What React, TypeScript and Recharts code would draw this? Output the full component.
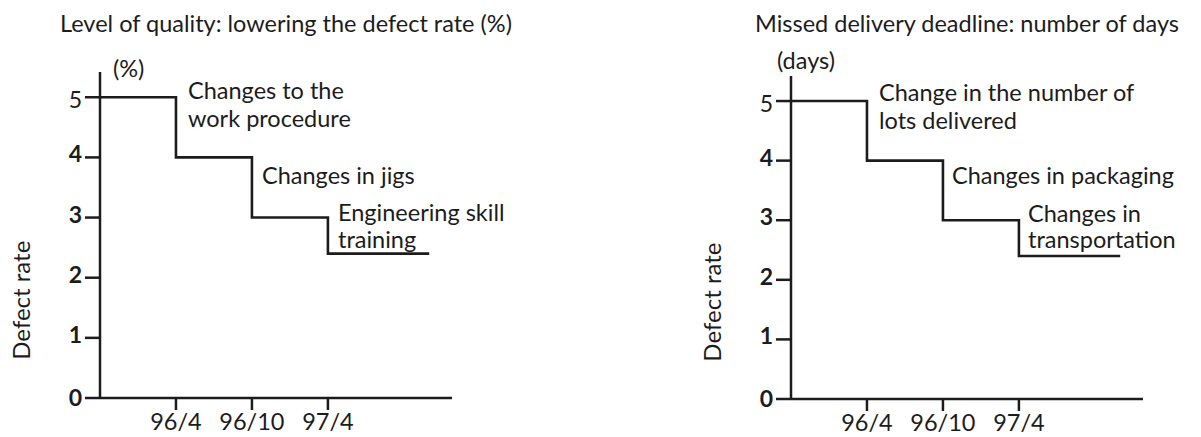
import { LineChart, Line, XAxis, YAxis } from 'recharts';

// months counted from 95/10
const months = [0, 6, 12, 18, 26];
const defectRate = [5, 4, 3, 2.4, 2.4];
const lateDays = [5, 4, 3, 2.4, 2.4];
const yTicks = [0, 1, 2, 3, 4, 5];
const xTicks = [6, 12, 18];
const xTickLabels = ['96/4', '96/10', '97/4'];

const qualityData = months.map((m, i) => ({ month: m, value: defectRate[i] }));
const deliveryData = months.map((m, i) => ({ month: m, value: lateDays[i] }));

const FONT = 'Lato, "Noto Sans", sans-serif';
const INK = '#1c1c1c';
const FS = 23.5;

const YTick = (props: any) => {
  const { x, y, payload } = props;
  const v = payload.value;
  const light = v === 5;
  return (
    <text
      x={x}
      y={y + (light ? 2 : v === 0 ? -1 : -4)}
      textAnchor="end"
      dominantBaseline="central"
      fontFamily={FONT}
      fontSize={23}
      fontWeight={light ? 400 : 700}
      fill={INK}
    >
      {v}
    </text>
  );
};

const YLabel = (props: any) => {
  const { viewBox } = props;
  const cx = viewBox.x + 21;
  const cy = viewBox.y + viewBox.height * 0.7;
  return (
    <text
      x={cx}
      y={cy}
      transform={`rotate(-90 ${cx} ${cy})`}
      textAnchor="middle"
      dominantBaseline="central"
      fontFamily={FONT}
      fontSize={24}
      fill={INK}
    >
      Defect rate
    </text>
  );
};

interface StepProps {
  data: Array<{ month: number; value: number }>;
  top: number;
  xAxisHeight: number;
}

const StepChart = (props: StepProps) => {
  return (
    <LineChart
      width={510}
      height={437}
      data={props.data}
      margin={{ top: props.top, right: 58, left: 0, bottom: 0 }}
    >
      <XAxis
        dataKey="month"
        type="number"
        domain={[0, 27.8]}
        ticks={xTicks}
        tickFormatter={(v: number) => xTickLabels[xTicks.indexOf(v)]}
        height={props.xAxisHeight}
        axisLine={{ stroke: INK, strokeWidth: 2.5 }}
        tickLine={{ stroke: INK, strokeWidth: 2.5 }}
        tickSize={12}
        tickMargin={3}
        tick={{ fill: INK, fontSize: FS, fontFamily: FONT }}
        interval={0}
      />
      <YAxis
        type="number"
        domain={[0, 5.42]}
        ticks={yTicks}
        width={100}
        axisLine={{ stroke: INK, strokeWidth: 2.5 }}
        tickLine={{ stroke: INK, strokeWidth: 2.5 }}
        tickSize={15}
        tickMargin={3}
        tick={<YTick />}
        interval={0}
        label={<YLabel />}
      />
      <Line
        type="stepAfter"
        dataKey="value"
        stroke={INK}
        strokeWidth={2.6}
        dot={false}
        isAnimationActive={false}
      />
    </LineChart>
  );
};

const textStyle = (left: number, top: number, lineHeight = 28): React.CSSProperties => ({
  position: 'absolute',
  left,
  top,
  fontFamily: FONT,
  fontSize: FS,
  lineHeight: `${lineHeight}px`,
  color: INK,
  whiteSpace: 'pre',
});

const App = () => {
  return (
    <div style={{ position: 'absolute', left: 0, top: 0, width: 1201, height: 437, background: '#fff' }}>
      <div style={{ position: 'absolute', left: 0, top: 0 }}>
        <StepChart data={qualityData} top={72} xAxisHeight={39} />
      </div>
      <div style={{ position: 'absolute', left: 691, top: 0 }}>
        <StepChart data={deliveryData} top={76} xAxisHeight={38} />
      </div>

      <div style={textStyle(60, 9)}>Level of quality: lowering the defect rate (%)</div>
      <div style={textStyle(113, 54)}>(%)</div>
      <div style={textStyle(188, 76)}>{'Changes to the\nwork procedure'}</div>
      <div style={textStyle(262, 161)}>Changes in jigs</div>
      <div style={textStyle(338, 199, 27)}>{'Engineering skill\ntraining'}</div>

      <div style={textStyle(755, 9)}>Missed delivery deadline: number of days</div>
      <div style={textStyle(777, 46)}>(days)</div>
      <div style={textStyle(879, 78)}>{'Change in the number of\nlots delivered'}</div>
      <div style={textStyle(952, 161)}>Changes in packaging</div>
      <div style={textStyle(1028, 200, 26)}>{'Changes in\ntransportation'}</div>
    </div>
  );
};

export default App;
